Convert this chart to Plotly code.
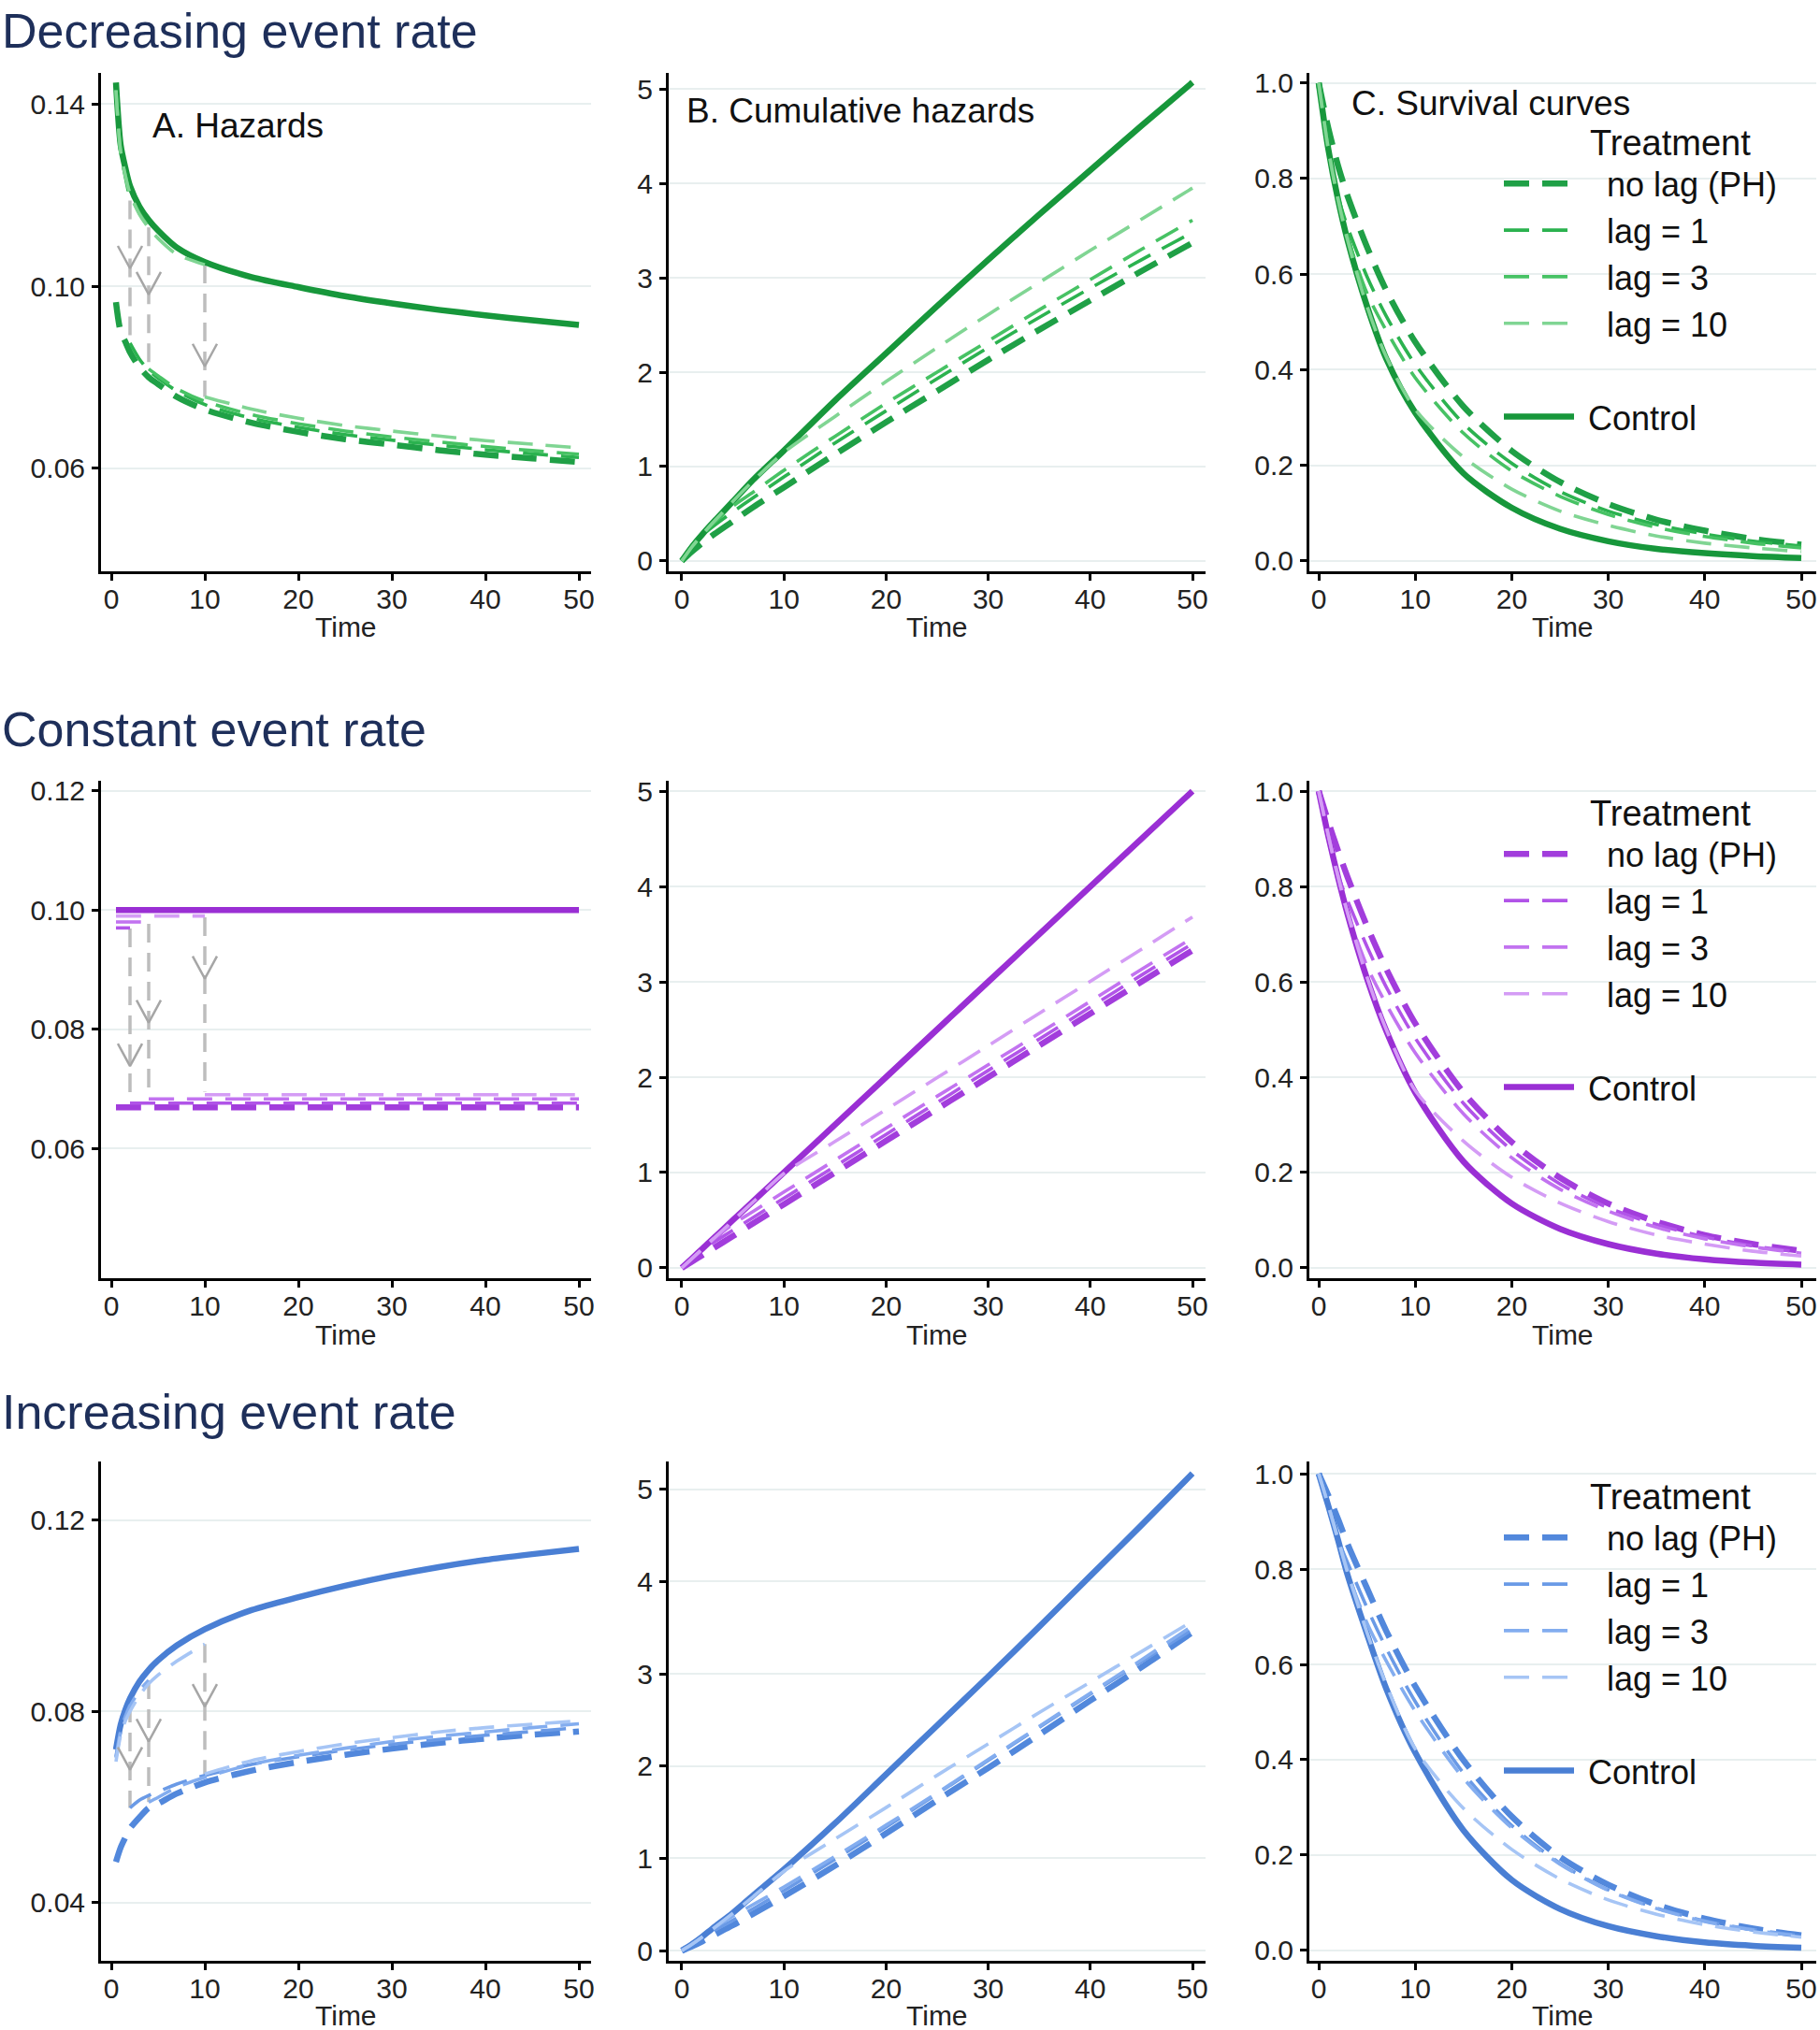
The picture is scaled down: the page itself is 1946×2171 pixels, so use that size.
import plotly.graph_objects as go

# ------------------------------------------------------------------ data
t_haz = [0.5, 1, 1.5, 2, 3, 4, 5, 7, 10, 15, 20, 25, 30, 35, 40, 45, 50]
t_cum = [0, 1, 2, 3, 5, 7, 10, 15, 20, 25, 30, 35, 40, 45, 50]
x_ticks = [0, 10, 20, 30, 40, 50]
lag_names = ["lag = 1", "lag = 3", "lag = 10"]
jump_t = [2, 4, 10]          # time at which each lagged hazard drops

# ---- Decreasing event rate
dec_h_ctrl = [0.1447, 0.1310, 0.1260, 0.1220, 0.1175, 0.1145, 0.1122, 0.1085, 0.1053,
              0.1020, 0.0998, 0.0978, 0.0962, 0.0948, 0.0936, 0.0925, 0.0915]
dec_h_nolag = [0.0965, 0.0900, 0.0878, 0.0855, 0.0822, 0.0800, 0.0785, 0.0757, 0.0729,
               0.0700, 0.0680, 0.0664, 0.0652, 0.0640, 0.0630, 0.0622, 0.0614]
dec_h_lag1_pre = [0.1430, 0.1295, 0.1240, 0.1190]
dec_h_lag1_post = [0.0875, 0.0840, 0.0815, 0.0798, 0.0770, 0.0740, 0.0710, 0.0690, 0.0674,
                   0.0662, 0.0651, 0.0641, 0.0632, 0.0624]
dec_h_lag3_pre = [0.1430, 0.1295, 0.1243, 0.1203, 0.1160, 0.1129]
dec_h_lag3_post = [0.0818, 0.0803, 0.0775, 0.0747, 0.0718, 0.0698, 0.0682, 0.0669, 0.0658,
                   0.0648, 0.0639, 0.0631]
dec_h_lag10_pre = [0.1430, 0.1295, 0.1243, 0.1203, 0.1158, 0.1128, 0.1105, 0.1070, 0.1047]
dec_h_lag10_post = [0.0757, 0.0730, 0.0710, 0.0694, 0.0682, 0.0671, 0.0661, 0.0653, 0.0645]
dec_arrow_top = [0.1188, 0.1129, 0.1047]
dec_arrow_tip = [0.1039, 0.0982, 0.0824]
dec_arrow_bot = [0.0875, 0.0818, 0.0757]
dec_c_ctrl = [0, 0.15, 0.28, 0.40, 0.63, 0.86, 1.17, 1.70, 2.20, 2.70, 3.19, 3.67, 4.14, 4.61, 5.07]
dec_c_nolag = [0, 0.10, 0.19, 0.27, 0.42, 0.57, 0.78, 1.13, 1.47, 1.80, 2.13, 2.45, 2.76, 3.07, 3.37]
dec_c_lag1 = [0, 0.15, 0.27, 0.36, 0.52, 0.67, 0.89, 1.25, 1.59, 1.93, 2.26, 2.58, 2.89, 3.19, 3.48]
dec_c_lag3 = [0, 0.15, 0.28, 0.39, 0.58, 0.73, 0.96, 1.32, 1.67, 2.00, 2.33, 2.66, 2.98, 3.30, 3.61]
dec_c_lag10 = [0, 0.15, 0.28, 0.40, 0.63, 0.85, 1.15, 1.53, 1.90, 2.26, 2.61, 2.95, 3.29, 3.62, 3.95]
dec_s_ctrl = [1.000, 0.861, 0.756, 0.670, 0.533, 0.423, 0.310, 0.183, 0.111, 0.067, 0.041, 0.025, 0.016, 0.010, 0.006]
dec_s_nolag = [1.000, 0.905, 0.827, 0.763, 0.657, 0.566, 0.458, 0.323, 0.230, 0.165, 0.119, 0.086, 0.063, 0.046, 0.034]
dec_s_lag1 = [1.000, 0.861, 0.763, 0.698, 0.595, 0.512, 0.411, 0.287, 0.204, 0.145, 0.104, 0.076, 0.056, 0.041, 0.031]
dec_s_lag3 = [1.000, 0.861, 0.756, 0.677, 0.560, 0.482, 0.383, 0.267, 0.188, 0.135, 0.097, 0.070, 0.051, 0.037, 0.027]
dec_s_lag10 = [1.000, 0.861, 0.756, 0.670, 0.533, 0.427, 0.317, 0.217, 0.150, 0.104, 0.074, 0.052, 0.037, 0.027, 0.019]

# ---- Constant event rate
con_h_ctrl = [0.100, 0.100, 0.100, 0.100, 0.100, 0.100, 0.100, 0.100, 0.100,
              0.100, 0.100, 0.100, 0.100, 0.100, 0.100, 0.100, 0.100]
con_h_nolag = [0.0669, 0.0669, 0.0669, 0.0669, 0.0669, 0.0669, 0.0669, 0.0669, 0.0669,
               0.0669, 0.0669, 0.0669, 0.0669, 0.0669, 0.0669, 0.0669, 0.0669]
con_h_lag1_pre = [0.0970, 0.0970, 0.0970, 0.0970]
con_h_lag1_post = [0.0676, 0.0676, 0.0676, 0.0676, 0.0676, 0.0676, 0.0676, 0.0676, 0.0676,
                   0.0676, 0.0676, 0.0676, 0.0676, 0.0676]
con_h_lag3_pre = [0.0980, 0.0980, 0.0980, 0.0980, 0.0980, 0.0980]
con_h_lag3_post = [0.0683, 0.0683, 0.0683, 0.0683, 0.0683, 0.0683, 0.0683, 0.0683, 0.0683,
                   0.0683, 0.0683, 0.0683]
con_h_lag10_pre = [0.0990, 0.0990, 0.0990, 0.0990, 0.0990, 0.0990, 0.0990, 0.0990, 0.0990]
con_h_lag10_post = [0.0690, 0.0690, 0.0690, 0.0690, 0.0690, 0.0690, 0.0690, 0.0690, 0.0690]
con_arrow_top = [0.0969, 0.0977, 0.0988]
con_arrow_tip = [0.0738, 0.0811, 0.0885]
con_arrow_bot = [0.0688, 0.0691, 0.0695]
con_c_ctrl = [0, 0.10, 0.20, 0.30, 0.50, 0.70, 1.00, 1.50, 2.00, 2.50, 3.00, 3.50, 4.00, 4.50, 5.00]
con_c_nolag = [0, 0.067, 0.133, 0.20, 0.333, 0.467, 0.667, 1.00, 1.333, 1.667, 2.00, 2.333, 2.667, 3.00, 3.33]
con_c_lag1 = [0, 0.097, 0.194, 0.261, 0.395, 0.529, 0.730, 1.065, 1.40, 1.735, 2.07, 2.40, 2.735, 3.07, 3.40]
con_c_lag3 = [0, 0.098, 0.196, 0.294, 0.458, 0.593, 0.796, 1.13, 1.465, 1.80, 2.13, 2.46, 2.795, 3.13, 3.46]
con_c_lag10 = [0, 0.099, 0.198, 0.297, 0.495, 0.693, 0.99, 1.325, 1.66, 1.995, 2.33, 2.67, 3.005, 3.34, 3.68]
con_s_ctrl = [1.000, 0.905, 0.819, 0.741, 0.607, 0.497, 0.368, 0.223, 0.135, 0.082, 0.050, 0.030, 0.018, 0.011, 0.007]
con_s_nolag = [1.000, 0.935, 0.875, 0.819, 0.717, 0.627, 0.513, 0.368, 0.264, 0.189, 0.135, 0.097, 0.069, 0.050, 0.036]
con_s_lag1 = [1.000, 0.908, 0.824, 0.770, 0.674, 0.589, 0.482, 0.345, 0.247, 0.176, 0.126, 0.091, 0.065, 0.046, 0.033]
con_s_lag3 = [1.000, 0.907, 0.822, 0.745, 0.633, 0.553, 0.451, 0.323, 0.231, 0.165, 0.119, 0.085, 0.061, 0.044, 0.031]
con_s_lag10 = [1.000, 0.906, 0.820, 0.743, 0.610, 0.500, 0.372, 0.266, 0.190, 0.136, 0.097, 0.069, 0.050, 0.035, 0.025]

# ---- Increasing event rate
inc_h_ctrl = [0.0720, 0.0772, 0.0803, 0.0827, 0.0862, 0.0887, 0.0907, 0.0938, 0.0972,
              0.1012, 0.1039, 0.1063, 0.1084, 0.1102, 0.1117, 0.1129, 0.1140]
inc_h_nolag = [0.0485, 0.0515, 0.0536, 0.0555, 0.0578, 0.0598, 0.0607, 0.0628, 0.0651,
               0.0676, 0.0694, 0.0709, 0.0722, 0.0734, 0.0743, 0.0751, 0.0758]
inc_h_lag1_pre = [0.0705, 0.0760, 0.0790, 0.0814]
inc_h_lag1_post = [0.0598, 0.0614, 0.0624, 0.0632, 0.0648, 0.0666, 0.0689, 0.0705, 0.0719,
                   0.0731, 0.0741, 0.0750, 0.0758, 0.0766]
inc_h_lag3_pre = [0.0703, 0.0757, 0.0788, 0.0811, 0.0843, 0.0865]
inc_h_lag3_post = [0.0610, 0.0620, 0.0641, 0.0662, 0.0689, 0.0708, 0.0723, 0.0737, 0.0748,
                   0.0757, 0.0766, 0.0774]
inc_h_lag10_pre = [0.0695, 0.0750, 0.0780, 0.0800, 0.0833, 0.0858, 0.0876, 0.0905, 0.0941]
inc_h_lag10_post = [0.0669, 0.0697, 0.0716, 0.0732, 0.0745, 0.0757, 0.0766, 0.0773, 0.0780]
inc_arrow_top = [0.0816, 0.0865, 0.0941]
inc_arrow_tip = [0.0678, 0.0737, 0.0810]
inc_arrow_bot = [0.0598, 0.0610, 0.0669]
inc_c_ctrl = [0, 0.07, 0.15, 0.24, 0.41, 0.60, 0.88, 1.38, 1.91, 2.44, 2.97, 3.51, 4.06, 4.61, 5.17]
inc_c_nolag = [0, 0.047, 0.10, 0.16, 0.275, 0.40, 0.59, 0.92, 1.27, 1.63, 1.98, 2.34, 2.71, 3.07, 3.45]
inc_c_lag1 = [0, 0.069, 0.148, 0.207, 0.33, 0.455, 0.65, 0.99, 1.34, 1.70, 2.06, 2.42, 2.78, 3.13, 3.48]
inc_c_lag3 = [0, 0.069, 0.148, 0.233, 0.375, 0.50, 0.69, 1.02, 1.36, 1.71, 2.07, 2.43, 2.79, 3.15, 3.52]
inc_c_lag10 = [0, 0.069, 0.147, 0.232, 0.405, 0.585, 0.86, 1.21, 1.55, 1.90, 2.24, 2.58, 2.91, 3.24, 3.57]
inc_s_ctrl = [1.000, 0.932, 0.861, 0.787, 0.664, 0.549, 0.415, 0.252, 0.148, 0.087, 0.051, 0.030, 0.017, 0.010, 0.006]
inc_s_nolag = [1.000, 0.954, 0.905, 0.852, 0.760, 0.670, 0.554, 0.399, 0.281, 0.196, 0.138, 0.096, 0.067, 0.046, 0.032]
inc_s_lag1 = [1.000, 0.933, 0.862, 0.813, 0.719, 0.634, 0.522, 0.372, 0.262, 0.183, 0.127, 0.089, 0.062, 0.044, 0.031]
inc_s_lag3 = [1.000, 0.933, 0.862, 0.792, 0.687, 0.607, 0.502, 0.361, 0.257, 0.181, 0.126, 0.088, 0.061, 0.043, 0.030]
inc_s_lag10 = [1.000, 0.933, 0.863, 0.793, 0.667, 0.557, 0.423, 0.298, 0.212, 0.150, 0.106, 0.076, 0.054, 0.039, 0.028]

row_titles = ["Decreasing event rate", "Constant event rate", "Increasing event rate"]
panel_labels = ["A. Hazards", "B. Cumulative hazards", "C. Survival curves"]
haz_ticks = [[0.06, 0.10, 0.14], [0.06, 0.08, 0.10, 0.12], [0.04, 0.08, 0.12]]
cum_ticks = [0, 1, 2, 3, 4, 5]
surv_ticks = [0.0, 0.2, 0.4, 0.6, 0.8, 1.0]

# ------------------------------------------------------------------ style / layout
FW, FH = 1946, 2171


def xp(P):                   # page pixel -> paper x
    return P / FW


def yp(P):                   # page pixel -> paper y
    return 1 - P / FH


FONT = "Liberation Sans, Arial, sans-serif"
TITLE_COLOR = "#1e2f5a"
GREY_LINE = "#bdbdbd"
GREY_HEAD = "#a6a6a6"
palettes = [
    dict(ctrl="#17973b", nolag="#1fa046", lags=["#2bb24f", "#47c264", "#80d593"]),
    dict(ctrl="#9a2fd4", nolag="#a23ddc", lags=["#b154e8", "#c273f0", "#d49cf5"]),
    dict(ctrl="#4a7fd4", nolag="#5288dc", lags=["#6a9ae6", "#83adef", "#a6c5f5"]),
]
W_CTRL, W_NOLAG, W_LAG = 6.5, 6.5, 3.6
DASH = "27px,14px"
HEAD_HALF_W, HEAD_LEN = 13, 24   # arrow-head size in px

col_px = [(108, 632), (715, 1289), (1400, 1942)]
row_px = [(78, 611), (835, 1367), (1563, 2097)]
x_ranges = [[-1.1, 51.3], [-1.28, 51.28], [-0.97, 51.55]]
y_ranges = [
    [[0.0374, 0.1468], [-0.11, 5.17], [-0.022, 1.021]],
    [[0.0382, 0.1217], [-0.108, 5.108], [-0.0216, 1.0216]],
    [[0.0278, 0.1323], [-0.11, 5.30], [-0.0216, 1.0255]],
]
time_label_y = [670, 1427, 2155]
title_y = [33, 780, 1510]
legend_top = [117, 834, 1565]
LEGEND_X = 1603
panel_label_pos = [(163, 134), (734, 118), (1445, 111)]

rows = [
    dict(h_ctrl=dec_h_ctrl, h_nolag=dec_h_nolag,
         h_pre=[dec_h_lag1_pre, dec_h_lag3_pre, dec_h_lag10_pre],
         h_post=[dec_h_lag1_post, dec_h_lag3_post, dec_h_lag10_post],
         a_top=dec_arrow_top, a_tip=dec_arrow_tip, a_bot=dec_arrow_bot,
         c_ctrl=dec_c_ctrl, c_nolag=dec_c_nolag, c_lags=[dec_c_lag1, dec_c_lag3, dec_c_lag10],
         s_ctrl=dec_s_ctrl, s_nolag=dec_s_nolag, s_lags=[dec_s_lag1, dec_s_lag3, dec_s_lag10]),
    dict(h_ctrl=con_h_ctrl, h_nolag=con_h_nolag,
         h_pre=[con_h_lag1_pre, con_h_lag3_pre, con_h_lag10_pre],
         h_post=[con_h_lag1_post, con_h_lag3_post, con_h_lag10_post],
         a_top=con_arrow_top, a_tip=con_arrow_tip, a_bot=con_arrow_bot,
         c_ctrl=con_c_ctrl, c_nolag=con_c_nolag, c_lags=[con_c_lag1, con_c_lag3, con_c_lag10],
         s_ctrl=con_s_ctrl, s_nolag=con_s_nolag, s_lags=[con_s_lag1, con_s_lag3, con_s_lag10]),
    dict(h_ctrl=inc_h_ctrl, h_nolag=inc_h_nolag,
         h_pre=[inc_h_lag1_pre, inc_h_lag3_pre, inc_h_lag10_pre],
         h_post=[inc_h_lag1_post, inc_h_lag3_post, inc_h_lag10_post],
         a_top=inc_arrow_top, a_tip=inc_arrow_tip, a_bot=inc_arrow_bot,
         c_ctrl=inc_c_ctrl, c_nolag=inc_c_nolag, c_lags=[inc_c_lag1, inc_c_lag3, inc_c_lag10],
         s_ctrl=inc_s_ctrl, s_nolag=inc_s_nolag, s_lags=[inc_s_lag1, inc_s_lag3, inc_s_lag10]),
]

fig = go.Figure()


def ax_names(r, c):
    i = r * 3 + c + 1
    s = "" if i == 1 else str(i)
    return "x" + s, "y" + s, i


def line(xa, ya, x, y, color, width, dash="solid", name=None, legend=None,
         group=None, rank=None, show=False, shape="spline"):
    fig.add_trace(go.Scatter(
        x=x, y=y, mode="lines", xaxis=xa, yaxis=ya,
        line=dict(color=color, width=width, dash=dash, shape=shape,
                  smoothing=0.8 if shape == "spline" else None),
        name=name, showlegend=show, legend=legend, legendgroup=group,
        legendrank=rank, hoverinfo="skip"))


layout_axes = {}
annotations = []
for r, d in enumerate(rows):
    pal = palettes[r]
    leg = "legend" if r == 0 else "legend%d" % (r + 1)
    top_px, bot_px = row_px[r]
    # ---------------- A: hazards
    xa, ya, i = ax_names(r, 0)
    px_per_x = (col_px[0][1] - col_px[0][0]) / (x_ranges[0][1] - x_ranges[0][0])
    px_per_y = (bot_px - top_px) / (y_ranges[r][0][1] - y_ranges[r][0][0])
    hx, hy = HEAD_HALF_W / px_per_x, HEAD_LEN / px_per_y
    for t, top, bot in zip(jump_t, d["a_top"], d["a_bot"]):
        line(xa, ya, [t, t], [top, bot], GREY_LINE, 3.5, "20px,11px", shape="linear")
    line(xa, ya, t_haz, d["h_ctrl"], pal["ctrl"], W_CTRL)
    line(xa, ya, t_haz, d["h_nolag"], pal["nolag"], W_NOLAG, DASH)
    for k, jt in enumerate(jump_t):
        j = t_haz.index(jt)
        line(xa, ya, t_haz[:j + 1], d["h_pre"][k], pal["lags"][k], W_LAG, DASH)
        line(xa, ya, t_haz[j:], d["h_post"][k], pal["lags"][k], W_LAG, DASH)
    for t, tip in zip(jump_t, d["a_tip"]):
        line(xa, ya, [t - hx, t, t + hx], [tip + hy, tip, tip + hy], GREY_HEAD, 2.5,
             shape="linear")
    # ---------------- B: cumulative hazards
    xa, ya, i = ax_names(r, 1)
    line(xa, ya, t_cum, d["c_ctrl"], pal["ctrl"], W_CTRL)
    line(xa, ya, t_cum, d["c_nolag"], pal["nolag"], W_NOLAG, DASH)
    for k in range(3):
        line(xa, ya, t_cum, d["c_lags"][k], pal["lags"][k], W_LAG, DASH)
    # ---------------- C: survival
    xa, ya, i = ax_names(r, 2)
    line(xa, ya, t_cum, d["s_ctrl"], pal["ctrl"], W_CTRL, name="\u00a0Control",
         legend=leg, group="ctl", rank=10, show=True)
    line(xa, ya, t_cum, d["s_nolag"], pal["nolag"], W_NOLAG, DASH,
         name="\u00a0\u00a0\u00a0no lag (PH)", legend=leg, group="trt", rank=1, show=True)
    for k in range(3):
        line(xa, ya, t_cum, d["s_lags"][k], pal["lags"][k], W_LAG, DASH,
             name="\u00a0\u00a0\u00a0" + lag_names[k], legend=leg, group="trt",
             rank=2 + k, show=True)

    # ---------------- axes
    for c in range(3):
        xa, ya, i = ax_names(r, c)
        sfx = "" if i == 1 else str(i)
        if c == 0:
            yt = haz_ticks[r]
            ytxt = ["%.2f" % v for v in yt]
        elif c == 1:
            yt = cum_ticks
            ytxt = [str(v) for v in yt]
        else:
            yt = surv_ticks
            ytxt = ["%.1f" % v for v in yt]
        common = dict(showline=True, linecolor="black", linewidth=3, ticks="outside",
                      ticklen=7, tickwidth=2.5, tickcolor="black", zeroline=False,
                      tickfont=dict(size=30, color="#222222", family=FONT),
                      fixedrange=True)
        layout_axes["xaxis" + sfx] = dict(
            domain=[xp(col_px[c][0]), xp(col_px[c][1])], anchor=ya,
            range=x_ranges[c], tickvals=x_ticks, showgrid=False,
            ticklabelstandoff=-6, **common)
        layout_axes["yaxis" + sfx] = dict(
            domain=[yp(bot_px), yp(top_px)], anchor=xa,
            range=y_ranges[r][c], tickvals=yt, ticktext=ytxt, showgrid=True,
            gridcolor="#e8efef", gridwidth=2, ticklabelstandoff=1, **common)
        annotations.append(dict(text="Time", xref=xa + " domain", yref="paper", x=0.5,
                                y=yp(time_label_y[r]), xanchor="center", yanchor="middle",
                                showarrow=False, font=dict(size=30, color="#222222", family=FONT)))
    # row title
    annotations.append(dict(text=row_titles[r], xref="paper", yref="paper", x=xp(0),
                            y=yp(title_y[r]), xanchor="left", yanchor="middle",
                            showarrow=False, font=dict(size=52, color=TITLE_COLOR, family=FONT)))
    # legend
    layout_axes[leg] = dict(
        x=xp(LEGEND_X), y=yp(legend_top[r]), xanchor="left", yanchor="top",
        bgcolor="rgba(0,0,0,0)", borderwidth=0,
        font=dict(size=36, color="#111111", family=FONT),
        title=dict(text="\u00a0" * 9 + "Treatment", side="top",
                   font=dict(size=38, color="#111111", family=FONT)),
        itemwidth=75, tracegroupgap=50, traceorder="grouped",
        itemclick=False, itemdoubleclick=False)

for k, (px, py) in enumerate(panel_label_pos):
    annotations.append(dict(text=panel_labels[k], xref="paper", yref="paper",
                            x=xp(px - 2), y=yp(py), xanchor="left", yanchor="middle",
                            showarrow=False, font=dict(size=37, color="#111111", family=FONT)))

fig.update_layout(
    width=FW, height=FH, margin=dict(l=0, r=0, t=0, b=0, autoexpand=False),
    paper_bgcolor="white", plot_bgcolor="white",
    font=dict(family=FONT, color="#222222"),
    annotations=annotations, **layout_axes)

fig.write_html("out.html",
               config={"displayModeBar": False},
               post_script="document.body.style.margin='0px';"
                           "document.body.style.overflow='hidden';")
